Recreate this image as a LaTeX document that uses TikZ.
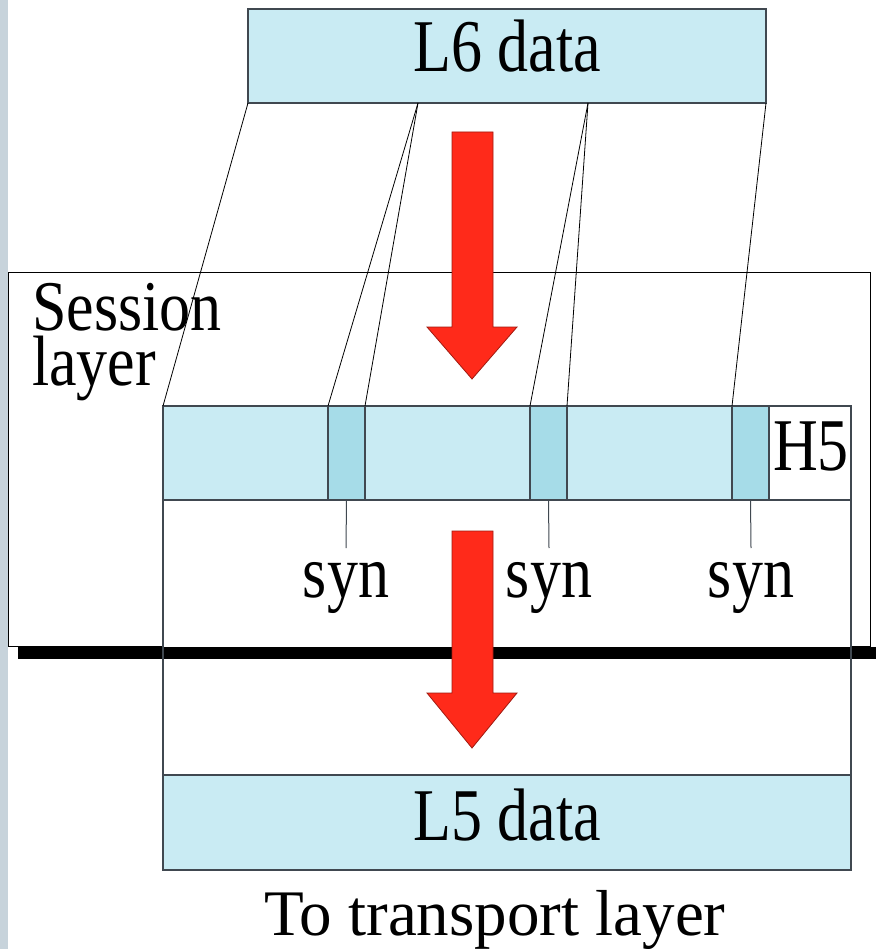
\documentclass[tikz,border=0pt]{standalone}
\usepackage{fontspec}
\usepackage{graphicx}
\setmainfont{Liberation Serif}
\usetikzlibrary{calc}
\definecolor{paleblue}{HTML}{C9EBF3}
\definecolor{synblue}{HTML}{A6DCE8}
\definecolor{edgegray}{HTML}{404850}
\definecolor{stripgray}{HTML}{C7D3DB}
\definecolor{arrowred}{HTML}{FF2A1A}
\definecolor{arrowedge}{HTML}{A01A10}
\newcommand{\tallt}[1]{\scalebox{1}[1.2]{#1}}
\tikzset{
  box/.style={draw=edgegray, line width=1.2pt, inner sep=0pt, outer sep=0pt, anchor=north west},
  bluebox/.style={box, fill=paleblue},
  synbox/.style={box, fill=synblue},
  whitebox/.style={box, fill=white},
  link/.style={draw=black, line width=0.8pt},
  tick/.style={draw=edgegray, line width=1pt},
  txt/.style={inner sep=0pt, outer sep=0pt, font=\fontsize{62}{62}\selectfont},
  blockarrow/.style={fill=arrowred, draw=arrowedge, line width=0.8pt, line join=miter}
}
\begin{document}
\begin{tikzpicture}[x=1pt,y=-1pt]
\useasboundingbox (0,0) rectangle (876,949);
\fill[white] (0,0) rectangle (876,949);
% left gray strip
\fill[stripgray] (0,0) rectangle (8,949);

% L6 data
\node[bluebox, minimum width=518pt, minimum height=94pt] (l6) at (248,9) {};
\node[txt, anchor=base] (l6t) at (507,72) {\tallt{L6 data}};

% session layer box
\node[box, draw=black, line width=1pt, fill=white, minimum width=862pt, minimum height=373pt] (sess) at (8,273) {};
\node[txt, anchor=north west, align=left, font=\fontsize{62}{55}\selectfont] (sesst) at (32,283) {\scalebox{1}[1.15]{Session}\\\scalebox{1}[1.15]{layer}};

% inner lower box (fill only first)
\fill[white] (163,406) rectangle (851,870);

% black bar
\fill[black] (18,647) rectangle (876,659);

% inner lower box border
\node[box, minimum width=688pt, minimum height=464pt] (inner) at (163,406) {};

% strip with syn cells
\node[bluebox, minimum width=606pt, minimum height=94pt] (strip) at (163,406) {};
\node[synbox, minimum width=37pt, minimum height=94pt] (syn1) at (328,406) {};
\node[synbox, minimum width=37pt, minimum height=94pt] (syn2) at (530,406) {};
\node[synbox, minimum width=37pt, minimum height=94pt] (syn3) at (732,406) {};
\node[whitebox, minimum width=82pt, minimum height=94pt] (h5) at (769,406) {};
\node[txt, anchor=base west] (h5t) at (773,470) {\tallt{H5}};

% L5 data
\node[bluebox, minimum width=688pt, minimum height=95pt] (l5) at (163,775) {};
\node[txt, anchor=base] (l5t) at (507,840) {\tallt{L5 data}};

% mapping lines
\coordinate (l6a) at (418,103);
\coordinate (l6b) at (588,103);
\draw[link] (l6.south west) -- (strip.north west);
\draw[link] (l6a) -- (syn1.north west);
\draw[link] (l6a) -- (syn1.north east);
\draw[link] (l6b) -- (syn2.north west);
\draw[link] (l6b) -- (syn2.north east);
\draw[link] (l6.south east) -- (syn3.north west);

% syn ticks and labels
\node[txt, anchor=base] (syn1t) at (346,597) {\tallt{syn}};
\node[txt, anchor=base] (syn2t) at (549,597) {\tallt{syn}};
\node[txt, anchor=base] (syn3t) at (751,597) {\tallt{syn}};
\coordinate (tk1) at (346,548);
\coordinate (tk2) at (549,548);
\coordinate (tk3) at (751,548);
\draw[tick] (syn1.south) -- (tk1);
\draw[tick] (syn2.south) -- (tk2);
\draw[tick] (syn3.south) -- (tk3);

% red block arrows
\draw[blockarrow] (452,132) -- (493,132) -- (493,327) -- (517,327) -- (472,379) -- (427,327) -- (452,327) -- cycle;
\draw[blockarrow] (452,531) -- (493,531) -- (493,693) -- (517,693) -- (472,748) -- (427,693) -- (452,693) -- cycle;

% bottom caption
\node[txt, anchor=base, font=\fontsize{65}{65}\selectfont] (cap) at (495,935) {To transport layer};
\end{tikzpicture}
\end{document}
